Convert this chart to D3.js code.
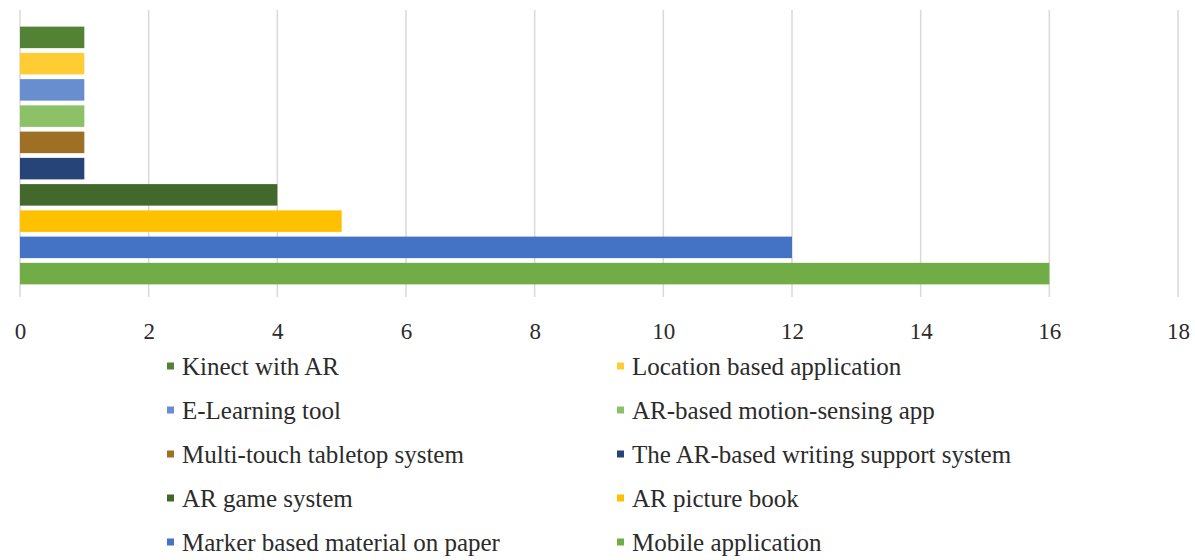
<!DOCTYPE html>
<html>
<head>
<meta charset="utf-8">
<script src="https://cdn.jsdelivr.net/npm/d3@7"></script>
<style>
  html, body { margin: 0; padding: 0; background: #fff; }
  svg text { font-family: "Liberation Serif", "DejaVu Serif", serif; fill: #2b2b2b; }
</style>
</head>
<body>
<svg id="vis" width="1195" height="560"></svg>
<script>
// bars listed top to bottom
let categories = ["Kinect with AR", "Location based application", "E-Learning tool",
    "AR-based motion-sensing app", "Multi-touch tabletop system", "The AR-based writing support system",
    "AR game system", "AR picture book", "Marker based material on paper", "Mobile application"];
let counts = [1, 1, 1, 1, 1, 1, 4, 5, 12, 16];
let barColors = ["#548235", "#ffcd33", "#698ed0", "#8cc168", "#9e7026", "#264478",
    "#43682b", "#ffc000", "#4472c4", "#70ad47"];
let xTicks = [0, 2, 4, 6, 8, 10, 12, 14, 16, 18];

let svg = d3.select("#vis");

let x = d3.scaleLinear()
    .domain([0, 18])
    .range([20, 1178]);

let y = d3.scaleBand()
    .domain(categories)
    .range([24, 287])
    .paddingInner(0.18)
    .paddingOuter(0.1);

// gridlines
svg.append("g")
    .selectAll("line")
    .data(xTicks)
    .enter()
    .append("line")
    .attr("x1", d => x(d))
    .attr("x2", d => x(d))
    .attr("y1", 10)
    .attr("y2", 297)
    .attr("stroke", "#d9d9d9")
    .attr("stroke-width", 1.5);

// bars
svg.append("g")
    .selectAll("rect")
    .data(categories)
    .enter()
    .append("rect")
    .attr("x", x(0))
    .attr("y", d => y(d))
    .attr("width", (d, i) => x(counts[i]) - x(0))
    .attr("height", y.bandwidth())
    .attr("fill", (d, i) => barColors[i]);

// x axis labels only, no domain line
let axis = svg.append("g")
    .attr("transform", "translate(0,331)")
    .call(d3.axisBottom(x).tickValues(xTicks).tickSize(0).tickPadding(0));
axis.select(".domain").remove();
axis.selectAll("text")
    .attr("dy", "0.35em")
    .attr("font-size", 23)
    .attr("font-family", "Liberation Serif")
    .attr("fill", "#2b2b2b");

// legend, two columns, row-major
let colX = [167, 617];
let rowY = d3.scaleLinear().domain([0, 4]).range([366, 542]);
let legend = svg.append("g")
    .selectAll("g")
    .data(categories)
    .enter()
    .append("g")
    .attr("transform", (d, i) => "translate(" + colX[i % 2] + "," + rowY(Math.floor(i / 2)) + ")");

legend.append("rect")
    .attr("x", 0)
    .attr("y", -3.5)
    .attr("width", 7)
    .attr("height", 7)
    .attr("fill", (d, i) => barColors[i]);

legend.append("text")
    .attr("x", 15)
    .attr("dy", "0.35em")
    .attr("font-size", 25)
    .text(d => d);
</script>
</body>
</html>
